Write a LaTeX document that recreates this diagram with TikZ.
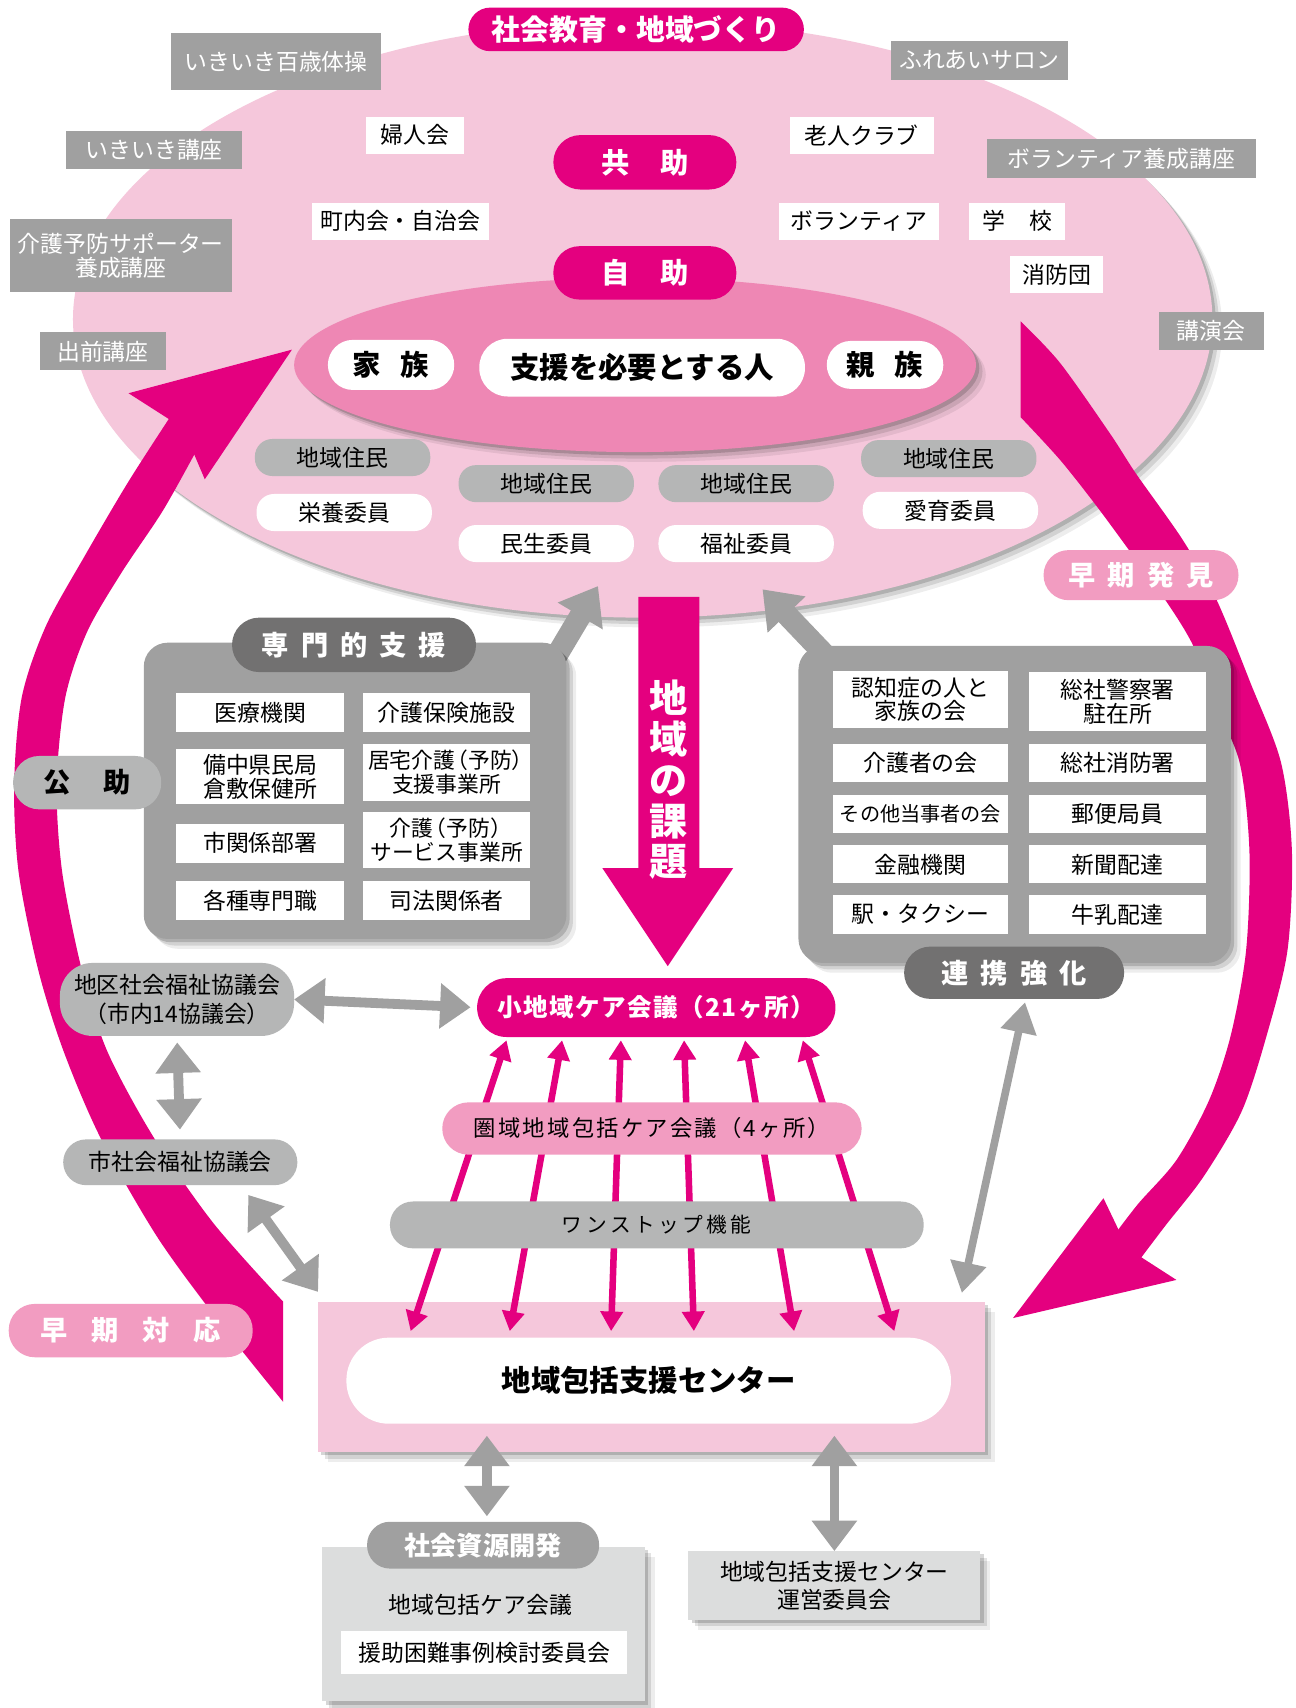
\documentclass[tikz,border=0pt]{standalone}
\usepackage{fontspec}
\setmainfont{Noto Sans CJK JP}
\usetikzlibrary{arrows.meta,shadows}
\definecolor{mag}{HTML}{E4007F}
\definecolor{lpink}{HTML}{F5C7DB}
\definecolor{mpink}{HTML}{EE87B4}
\definecolor{ppink}{HTML}{F29CC1}
\definecolor{gbox}{HTML}{A0A0A0}
\definecolor{dgray}{HTML}{727171}
\definecolor{lgray}{HTML}{B5B6B6}
\definecolor{vlgray}{HTML}{DCDDDD}
\newcommand{\myfs}[1]{\fontsize{#1}{#1}\selectfont}
\newcommand{\lp}{\kern-0.4em（}
\newcommand{\rp}{）\kern-0.4em}
\begin{document}
\begin{tikzpicture}[x=1pt,y=-1pt,
  every node/.style={inner sep=0pt,outer sep=0pt},
  sz/.style 2 args={minimum width=#1pt,minimum height=#2pt},
  softshadow/.style={drop shadow={shadow xshift=3pt,shadow yshift=-3pt,opacity=0.16,fill=black},
                     drop shadow={shadow xshift=6pt,shadow yshift=-6pt,opacity=0.11,fill=black},
                     drop shadow={shadow xshift=9pt,shadow yshift=-9pt,opacity=0.07,fill=black}},
  glab/.style={fill=gbox,text=white,font=\myfs{21}},
  wlab/.style={fill=white,text=black,font=\myfs{21}},
  mpill/.style={fill=mag,text=white,font=\bfseries\myfs{26}},
  bpill/.style={fill=white,text=black,font=\bfseries\myfs{26}},
  rpill/.style={fill=lgray,text=black,font=\myfs{21},rounded corners=16pt,sz={161}{34}},
  cpill/.style={fill=white,text=black,font=\myfs{21},rounded corners=16pt,sz={161}{34}},
  ppill/.style={fill=ppink,text=white,font=\bfseries\myfs{25}},
  hpill/.style={fill=dgray,text=white,font=\bfseries\myfs{25}},
  ibox/.style={fill=white,text=black,font=\fontsize{21}{22}\selectfont,align=center},
  gpill/.style={fill=lgray,text=black,font=\fontsize{21}{26}\selectfont,align=center},
  marr/.style={draw=mag,line width=6pt,{Triangle[length=18pt,width=20pt]}-{Triangle[length=18pt,width=20pt]}},
  garr/.style={draw=gbox,line width=9pt,{Triangle[length=28pt,width=40pt]}-{Triangle[length=28pt,width=40pt]}}
]
\useasboundingbox (0,0) rectangle (1189,1568);
\fill[white] (0,0) rectangle (1189,1568);

% big ellipse
\fill[lpink,softshadow] (590,293) ellipse [x radius=523pt,y radius=274pt];

% gray labels
\node[glab,sz={193}{53}] (g1) at (253.5,56.5) {いきいき百歳体操};
\node[glab,sz={161}{35}] (g2) at (141.5,137.5) {いきいき講座};
\node[glab,sz={204}{67},align=center,font=\fontsize{21}{22}\selectfont] (g3) at (111,234.5) {介護予防サポーター\\養成講座};
\node[glab,sz={115}{35}] (g4) at (94.5,322.5) {出前講座};
\node[glab,sz={162}{35}] (g5) at (899,55.5) {ふれあいサロン};
\node[glab,sz={247}{35}] (g6) at (1029.5,145.5) {ボランティア養成講座};
\node[glab,sz={96}{35}] (g7) at (1112,303.5) {講演会};

% white labels
\node[wlab,sz={90}{34}] (w1) at (381,124) {婦人会};
\node[wlab,sz={163}{34}] (w2) at (367.5,203) {町内会・自治会};
\node[wlab,sz={132}{34}] (w3) at (791,124) {老人クラブ};
\node[wlab,sz={147}{34}] (w4) at (788.5,203) {ボランティア};
\node[wlab,sz={88}{34}] (w5) at (934,203) {学\hspace{22pt}校};
\node[wlab,sz={86}{34}] (w6) at (970,252) {消防団};

% inner ellipse
\fill[mpink,softshadow] (583,335) ellipse [x radius=313pt,y radius=80pt];

% magenta pills
\node[mpill,sz={308}{40},rounded corners=20pt,font=\bfseries\myfs{26.5}] (soc) at (584,27) {社会教育・地域づくり};
\node[mpill,sz={168}{50},rounded corners=25pt] (kyo) at (592,149) {共\hspace{28pt}助};
\node[mpill,sz={168}{49},rounded corners=24pt] (ji) at (592,250.5) {自\hspace{28pt}助};

% family pills
\node[bpill,sz={116}{46},rounded corners=23pt] (kazoku) at (359,335) {家\hspace{18pt}族};
\node[bpill,sz={299}{53},rounded corners=26pt,font=\bfseries\myfs{27}] (hito) at (589.5,337.5) {支援を必要とする人};
\node[bpill,sz={107}{44},rounded corners=22pt] (shin) at (812.5,335) {親\hspace{18pt}族};

% residents
\node[rpill] (r1) at (314.5,420) {地域住民};
\node[cpill] (c1) at (316,470.5) {栄養委員};
\node[rpill] (r2) at (501.5,444) {地域住民};
\node[cpill] (c2) at (501.5,499) {民生委員};
\node[rpill] (r3) at (685,444) {地域住民};
\node[cpill] (c3) at (685,499) {福祉委員};
\node[rpill] (r4) at (871,421) {地域住民};
\node[cpill] (c4) at (872.5,468.5) {愛育委員};

% left big arrow (kojo)
\fill[mag] plot[smooth] coordinates {(260,1287) (200,1212) (144,1135) (92,1044) (58,964) (35,890) (17,800) (13,720) (20,640) (42,575) (78,510) (118,442) (158,380)}
  -- plot[smooth] coordinates {(185,405) (150,468) (112,525) (80,580) (60,640) (52,720) (57,800) (75,890) (98,964) (141,1044) (196,1123) (260,1195)} -- cycle;
\fill[mag] (118,361) -- (268,321) -- (188,440) -- (168,393) -- cycle;

% right big arrow (hakken)
\fill[mag] plot[smooth] coordinates {(937,295) (973,333) (1019,398) (1043,435) (1086,496) (1117,551) (1148,627) (1176,700) (1186,781) (1182,872) (1163,950) (1140,1020) (1105,1080) (1070,1125) (1045,1158)}
  -- plot[smooth] coordinates {(1022,1135) (1045,1105) (1080,1065) (1110,1010) (1130,950) (1144,872) (1147,781) (1138,700) (1114,643) (1096,594) (1074,557) (1043,514) (1007,465) (973,422) (937,383)} -- cycle;
\fill[mag] (930,1210) -- (1013,1100) -- (1035,1146) -- (1080,1175) -- cycle;

% chiiki no kadai arrow
\fill[mag] (586,548) -- (642,548) -- (642,797) -- (673,797) -- (613,887) -- (553,797) -- (586,797) -- cycle;
\node[text=white,font=\bfseries\fontsize{35}{37.5}\selectfont,align=center] (kadai) at (614,716) {地\\域\\の\\課\\題};

% thick gray arrows to ellipse
\coordinate (ga1) at (505,612);
\coordinate (ga2) at (549,538);
\coordinate (gb1) at (762,606);
\coordinate (gb2) at (700,541);
\draw[gbox,line width=20pt,-{Triangle[length=32pt,width=46pt]}] (ga1) -- (ga2);
\draw[gbox,line width=20pt,-{Triangle[length=32pt,width=46pt]}] (gb1) -- (gb2);

% early detection pill
\node[ppill,sz={179}{46},rounded corners=23pt] (hakken) at (1047.5,528) {早\hspace{11pt}期\hspace{11pt}発\hspace{11pt}見};

% senmon box
\node[fill=gbox,rounded corners=22pt,softshadow,sz={388}{272}] (senbox) at (326,726) {};
\node[hpill,sz={224}{50},rounded corners=25pt] (senh) at (325,592) {専\hspace{11pt}門\hspace{11pt}的\hspace{11pt}支\hspace{11pt}援};
\node[ibox,sz={154}{36}] (s1) at (239,654) {医療機関};
\node[ibox,sz={154}{36}] (s2) at (410,654) {介護保険施設};
\node[ibox,sz={154}{51}] (s3) at (239,713) {備中県民局\\倉敷保健所};
\node[ibox,sz={154}{52},font=\fontsize{20}{22}\selectfont] (s4) at (410,709) {居宅介護\lp 予防\rp\\支援事業所};
\node[ibox,sz={154}{36}] (s5) at (239,774) {市関係部署};
\node[ibox,sz={154}{52},font=\fontsize{20}{22}\selectfont] (s6) at (410,771) {介護\lp 予防\rp\\サービス事業所};
\node[ibox,sz={154}{36}] (s7) at (239,827) {各種専門職};
\node[ibox,sz={154}{36}] (s8) at (410,827) {司法関係者};

% kojo pill
\node[fill=lgray,text=black,font=\bfseries\myfs{25},sz={136}{49},rounded corners=24pt] (kojo) at (80,718.5) {公\hspace{30pt}助};

% renkei box
\node[fill=gbox,rounded corners=22pt,softshadow,sz={397}{291}] (renbox) at (931.5,738.5) {};
\node[ibox,sz={160}{52}] (k1) at (845,642) {認知症の人と\\家族の会};
\node[ibox,sz={162}{54}] (k2) at (1026,644) {総社警察署\\駐在所};
\node[ibox,sz={160}{35}] (k3) at (845,700.5) {介護者の会};
\node[ibox,sz={162}{35}] (k4) at (1026,700.5) {総社消防署};
\node[ibox,sz={160}{35},font=\myfs{18.5}] (k5) at (845,747.5) {その他当事者の会};
\node[ibox,sz={162}{35}] (k6) at (1026,747.5) {郵便局員};
\node[ibox,sz={160}{35}] (k7) at (845,793.5) {金融機関};
\node[ibox,sz={162}{35}] (k8) at (1026,793.5) {新聞配達};
\node[ibox,sz={160}{35}] (k9) at (845,839.5) {駅・タクシー};
\node[ibox,sz={162}{35}] (k10) at (1026,839.5) {牛乳配達};
\node[hpill,sz={202}{48},rounded corners=24pt] (renh) at (931,893) {連\hspace{11pt}携\hspace{11pt}強\hspace{11pt}化};

% center
\node[fill=lpink,softshadow,sz={612}{138}] (ctr) at (598,1264) {};

% magenta double arrows
\coordinate (t1) at (465,955); \coordinate (b1) at (377,1222);
\coordinate (t2) at (516,955); \coordinate (b2) at (468,1222);
\coordinate (t3) at (570,955); \coordinate (b3) at (561,1222);
\coordinate (t4) at (628,955); \coordinate (b4) at (637,1222);
\coordinate (t5) at (684,955); \coordinate (b5) at (729,1222);
\coordinate (t6) at (737,955); \coordinate (b6) at (821,1222);
\foreach \i in {1,...,6} {\draw[marr] (t\i) -- (b\i);}

\node[fill=white,sz={555}{79},rounded corners=39pt,font=\bfseries\myfs{27}] (ctrin) at (595.5,1267.5) {地域包括支援センター};

% lower left nodes
\node[gpill,sz={215}{67},rounded corners=30pt] (chiku) at (162.5,917.5) {地区社会福祉協議会\\（市内14協議会）};
\node[mpill,sz={329}{54},rounded corners=27pt,font=\bfseries\myfs{22.5}\addfontfeature{LetterSpace=6}] (sk) at (602.5,925) {小地域ケア会議（21ヶ所）};
\node[gpill,sz={215}{42},rounded corners=21pt] (shi) at (165.5,1067) {市社会福祉協議会};
\node[fill=ppink,text=black,font=\myfs{20.5}\addfontfeature{LetterSpace=10},sz={385}{48},rounded corners=24pt] (ken) at (598.5,1036) {圏域地域包括ケア会議（4ヶ所）};
\node[gpill,sz={490}{43},rounded corners=21pt,font=\myfs{19}] (one) at (603,1124.5) {ワ\,ン\,ス\,ト\,ッ\,プ\,機\,能};
\node[ppill,sz={224}{49},rounded corners=24pt] (taio) at (120,1221.5) {早\hspace{22pt}期\hspace{22pt}対\hspace{22pt}応};

% gray connectors
\draw[garr,shorten >=6pt] (chiku.east) -- (sk.west);
\draw[garr,shorten <=6pt,shorten >=9pt] (chiku.south) -- (shi.north);
\coordinate (d1) at (228,1097);
\coordinate (d2) at (292,1186);
\draw[garr] (d1) -- (d2);
\coordinate (e1) at (941,920);
\coordinate (e2) at (883,1187);
\draw[draw=gbox,line width=7pt,{Triangle[length=28pt,width=32pt]}-{Triangle[length=28pt,width=32pt]}] (e1) -- (e2);

% bottom boxes
\node[fill=vlgray,softshadow,sz={296}{142}] (shigen) at (444,1491) {};
\node[fill=gbox,text=white,font=\bfseries\myfs{24},sz={213}{43},rounded corners=21pt] (shigenh) at (443.5,1418.5) {社会資源開発};
\node[font=\myfs{21}] (kaigi) at (441,1473) {地域包括ケア会議};
\node[fill=white,font=\myfs{21},sz={263}{40}] (enjo) at (444.5,1517) {援助困難事例検討委員会};
\node[fill=vlgray,softshadow,sz={268}{63},align=center,font=\fontsize{21}{26}\selectfont] (unei) at (766,1455.5) {地域包括支援センター\\運営委員会};

\coordinate (f1) at (447,1318);
\coordinate (f2) at (447,1392);
\draw[garr] (f1) -- (f2);
\coordinate (h1) at (766,1318);
\coordinate (h2) at (766,1424);
\draw[garr] (h1) -- (h2);
\end{tikzpicture}
\end{document}
